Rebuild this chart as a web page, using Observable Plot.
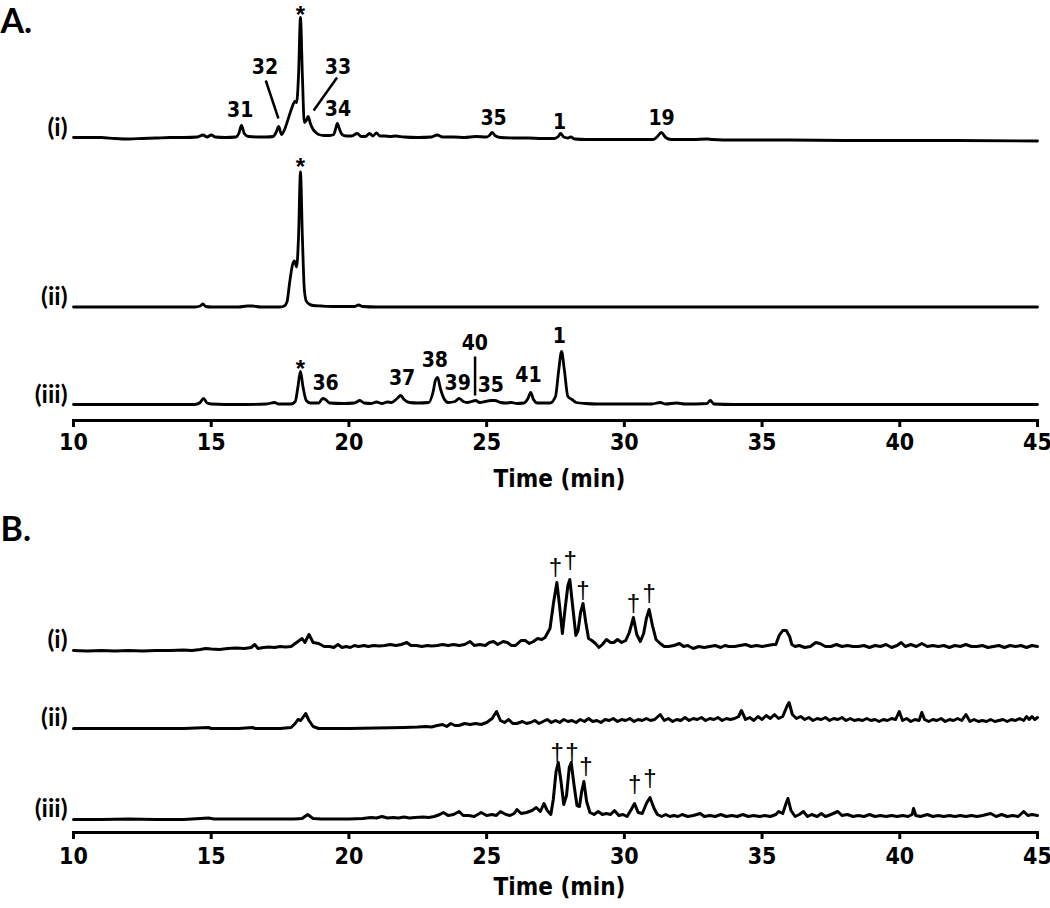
<!DOCTYPE html>
<html><head><meta charset="utf-8">
<script src="https://cdn.jsdelivr.net/npm/d3@7"></script>
<script src="https://cdn.jsdelivr.net/npm/@observablehq/plot@0.6"></script>
<style>
body{margin:0;background:#fff;}
#fig{width:1050px;}
#fig svg{display:block;}
</style></head><body><div id="fig"></div>
<script>
// ---------- data ----------
const timeTicks = [10, 15, 20, 25, 30, 35, 40, 45];
const traceNames = ["(i)", "(ii)", "(iii)"];
const axisTitle = "Time (min)";
const panelNames = ["A.", "B."];

// Panel A, trace (i): [time (min), signal]
const seriesAi = [[10,0],[11,0],[11.5,-1],[12,-1.5],[12.5,-1],[13,-0.5],[13.5,0],[14,0],[14.5,0.5],[14.7,2.5],[14.85,0.5],[15,2.5],[15.15,0.5],[15.5,0],[15.9,0.5],[16,4],[16.1,12],[16.2,4],[16.35,1],[16.7,0.5],[17,0.5],[17.25,1],[17.37,6],[17.45,11],[17.55,3],[17.65,7],[17.8,19],[17.92,29],[18.04,36],[18.1,35],[18.17,62],[18.24,120],[18.31,62],[18.38,15],[18.45,17],[18.52,21],[18.6,14],[18.7,8],[18.8,5],[18.9,3],[19.1,2],[19.3,2],[19.45,3],[19.52,9],[19.58,14],[19.65,9],[19.75,3],[19.9,1.5],[20.1,1.5],[20.3,4],[20.45,1],[20.6,1],[20.75,4],[20.87,1.5],[21,4.5],[21.12,1.5],[21.3,1.5],[21.5,1],[21.7,1.5],[22,0.5],[22.5,0],[23,0.5],[23.2,2.5],[23.4,0.5],[23.8,0.5],[24.2,0],[24.6,1],[25,0.5],[25.1,2],[25.2,5],[25.3,2],[25.5,0],[26,-0.5],[26.5,-0.5],[27,-1],[27.45,-1],[27.6,1],[27.68,4],[27.8,0.5],[27.95,-0.5],[28.05,0.5],[28.2,-1.5],[28.6,-2],[29.5,-2],[30.5,-2],[31.05,-2],[31.2,1],[31.34,5],[31.5,0],[31.7,-2],[32.5,-2],[33,-1.5],[33.2,-2],[34,-2.5],[36,-2.5],[38,-3],[40,-3],[42,-3],[45,-3.5]];
// Panel A, trace (ii)
const seriesAii = [[10,0],[14.4,0],[14.6,1],[14.7,3],[14.8,0.5],[15,0],[16,0],[16.3,1],[16.5,1],[16.8,0],[17.5,0],[17.65,1],[17.75,5],[17.85,25],[17.95,42],[18.02,46],[18.1,40],[18.17,70],[18.24,135],[18.31,70],[18.38,18],[18.45,6],[18.55,3],[18.7,1.5],[19,1],[19.5,0.5],[20.2,0.5],[20.35,2],[20.5,0.5],[21,0],[45,0]];
// Panel A, trace (iii)
const seriesAiii = [[10,0],[14.4,0],[14.6,2],[14.72,6],[14.85,1.5],[15,0.5],[16,0],[17,0.5],[17.3,2],[17.45,0.5],[17.9,0.5],[18.05,3],[18.15,18],[18.24,33],[18.33,18],[18.45,4],[18.6,1.5],[18.9,1.5],[19.05,6],[19.15,5],[19.3,1.5],[19.8,1],[20.2,1.5],[20.4,4],[20.55,1.5],[20.8,1],[21,2.5],[21.2,1],[21.4,2.5],[21.55,2],[21.75,6],[21.88,9],[22,5],[22.2,2],[22.5,1.5],[22.9,2],[23.05,12],[23.15,25],[23.22,27],[23.32,16],[23.45,6],[23.6,2],[23.85,3],[24,6],[24.15,3],[24.3,2],[24.45,3],[24.6,4],[24.75,2],[24.95,3],[25.15,4],[25.3,4],[25.5,2],[25.7,1.5],[25.9,2],[26.1,1],[26.35,1.5],[26.5,6],[26.6,12],[26.7,5],[26.85,1.5],[27.3,1.5],[27.5,8],[27.62,35],[27.72,53],[27.82,35],[27.95,8],[28.1,5],[28.25,2],[28.6,1],[29,0.5],[30,0.5],[31,0.5],[31.3,2],[31.5,0.5],[31.9,1.5],[32.2,0.5],[33,1],[33.12,4],[33.25,0.5],[34,0],[45,0]];

// Panel B, trace (i)
const seriesBi = [[10,0],[10.5,-0.5],[11,0],[11.5,-0.5],[12,0],[12.5,-0.5],[13,0],[13.5,0],[14,0.5],[14.3,0],[14.6,1],[14.8,2],[15,1.5],[15.3,1],[15.6,2],[15.9,2.5],[16.2,2],[16.45,3],[16.58,6],[16.7,2],[16.9,3],[17.1,3.5],[17.3,3],[17.5,4],[17.7,3.5],[17.9,4],[18.05,7],[18.2,10],[18.3,12],[18.4,8],[18.55,16],[18.7,8],[18.9,7],[19.1,4],[19.3,4],[19.45,3],[19.6,6],[19.75,3],[19.9,4],[20.05,3],[20.2,5],[20.35,4],[20.55,5],[20.7,4],[20.9,5],[21.1,4.5],[21.3,5],[21.5,6],[21.7,5],[21.9,6],[22.1,8],[22.25,5],[22.45,5],[22.65,4],[22.85,5],[23,4.5],[23.2,5],[23.4,6],[23.6,5],[23.8,6],[24,5],[24.2,6],[24.4,9],[24.55,5],[24.75,6],[24.95,5],[25.1,8],[25.25,9],[25.4,6],[25.6,9],[25.75,8],[25.9,5],[26.05,5],[26.25,10],[26.4,10],[26.55,7],[26.7,9],[26.85,12],[27,11],[27.12,13],[27.3,22],[27.43,48],[27.55,68],[27.65,44],[27.75,17],[27.85,42],[27.95,65],[28.02,71],[28.12,45],[28.24,15],[28.32,20],[28.41,38],[28.5,47],[28.6,28],[28.7,12],[28.82,10],[28.95,7],[29.08,3],[29.2,6],[29.35,11],[29.5,8],[29.62,8],[29.75,11],[29.9,8],[30.05,10],[30.18,18],[30.33,33],[30.45,16],[30.58,9],[30.7,17],[30.8,32],[30.9,41],[31.02,25],[31.15,11],[31.3,7],[31.45,4],[31.6,4],[31.8,5],[32,7],[32.15,4],[32.3,5],[32.5,2],[32.7,4],[32.9,3],[33.1,4],[33.3,5],[33.5,3],[33.65,5],[33.8,4],[34,4],[34.2,5],[34.4,6],[34.6,4],[34.8,5],[35,4],[35.2,5],[35.4,6],[35.5,6],[35.62,15],[35.75,20],[35.88,20],[36,14],[36.08,6],[36.2,4],[36.35,5],[36.55,3],[36.75,4],[36.95,8],[37.1,7],[37.3,4],[37.5,4],[37.7,6],[37.9,4],[38.1,5],[38.3,4],[38.5,4],[38.7,5],[38.9,3],[39.1,5],[39.3,4],[39.5,6],[39.7,3],[39.9,5],[40.05,8],[40.2,4],[40.4,6],[40.6,4],[40.8,7],[41,4],[41.2,5],[41.4,4],[41.6,5],[41.8,3],[42,5],[42.2,4],[42.4,6],[42.6,4],[42.8,4],[43,5],[43.2,3],[43.4,4],[43.6,5],[43.8,3],[44,5],[44.2,4],[44.4,5],[44.6,3],[44.8,5],[45,4]];
// Panel B, trace (ii)
const seriesBii = [[10,0],[11,0],[12,0],[13,0],[14,0],[14.9,1],[15,0],[16,0],[16.5,1],[16.6,0],[17.5,0],[17.9,1],[18.05,5],[18.15,9],[18.25,8],[18.43,15],[18.55,8],[18.7,2],[18.9,0],[19.5,0],[20,0],[21,0.5],[22,1],[22.5,1.5],[22.8,2],[23,1.5],[23.2,3],[23.4,4],[23.55,2],[23.7,5],[23.85,3],[24,3],[24.2,5],[24.4,4],[24.6,5],[24.8,4],[25,6],[25.2,10],[25.36,17],[25.5,8],[25.65,6],[25.8,9],[25.95,5],[26.1,5],[26.3,7],[26.45,5],[26.6,6],[26.75,8],[26.9,5],[27.05,7],[27.2,9],[27.35,6],[27.5,8],[27.65,6],[27.8,9],[27.95,7],[28.1,8],[28.25,6],[28.4,9],[28.55,7],[28.7,10],[28.85,7],[29,8],[29.15,6],[29.3,9],[29.45,8],[29.6,10],[29.75,7],[29.9,9],[30.05,8],[30.2,10],[30.35,7],[30.5,9],[30.65,8],[30.8,10],[30.95,8],[31.1,9],[31.3,14],[31.45,8],[31.6,10],[31.75,7],[31.9,9],[32.05,8],[32.2,11],[32.35,8],[32.5,10],[32.65,9],[32.8,11],[32.95,8],[33.1,10],[33.25,9],[33.4,11],[33.55,8],[33.7,10],[33.85,9],[34,10],[34.15,12],[34.25,18],[34.4,9],[34.55,11],[34.7,8],[34.85,12],[35,9],[35.15,13],[35.3,10],[35.45,14],[35.6,10],[35.75,12],[35.9,22],[35.98,26],[36.1,14],[36.25,10],[36.4,12],[36.55,9],[36.7,11],[36.85,8],[37,10],[37.15,9],[37.3,11],[37.45,8],[37.6,10],[37.75,9],[37.9,11],[38.05,8],[38.2,10],[38.35,8],[38.5,9],[38.65,8],[38.8,10],[38.95,8],[39.1,9],[39.25,7],[39.4,9],[39.55,8],[39.7,10],[39.85,9],[39.98,17],[40.1,8],[40.25,10],[40.4,7],[40.55,9],[40.7,8],[40.8,16],[40.9,9],[41.05,7],[41.2,9],[41.35,8],[41.5,10],[41.65,7],[41.8,9],[41.95,8],[42.1,10],[42.25,8],[42.4,14],[42.55,7],[42.7,9],[42.85,7],[43,8],[43.15,7],[43.3,9],[43.45,7],[43.6,8],[43.75,9],[43.9,7],[44.05,9],[44.2,8],[44.35,10],[44.5,8],[44.6,12],[44.7,9],[44.8,12],[44.9,9],[45,11]];
// Panel B, trace (iii)
const seriesBiii = [[10,0],[10.5,0],[11,0],[12,0.5],[13,0],[14,0],[14.9,1.5],[15.1,0.5],[16,0.5],[17,0.5],[18,0.5],[18.3,1],[18.5,5],[18.7,1],[19,0.5],[19.5,0.5],[20,0.5],[20.5,1],[20.8,2],[21,1.5],[21.2,3],[21.4,1.5],[21.6,2],[21.8,1.5],[22,2.5],[22.2,1.5],[22.4,2],[22.7,2.5],[22.9,2],[23.1,3],[23.3,5],[23.43,7],[23.6,4],[23.8,5],[24,8],[24.15,4],[24.35,4],[24.55,3],[24.8,7],[25,4],[25.2,5],[25.35,4],[25.5,8],[25.7,5],[25.85,4],[26,6],[26.1,10],[26.25,6],[26.45,7],[26.65,9],[26.8,12],[26.95,8],[27.08,16],[27.2,9],[27.33,5],[27.42,20],[27.52,48],[27.6,57],[27.7,38],[27.8,15],[27.9,24],[28,52],[28.07,57],[28.17,35],[28.28,14],[28.37,13],[28.45,28],[28.53,38],[28.63,18],[28.75,7],[28.9,5],[29.05,8],[29.2,5],[29.35,6],[29.5,5],[29.64,9],[29.8,4],[29.95,5],[30.1,3],[30.25,10],[30.37,16],[30.5,7],[30.65,6],[30.8,16],[30.93,22],[31.08,11],[31.2,5],[31.35,3],[31.5,5],[31.65,3],[31.8,4],[31.95,3],[32.1,5],[32.3,3],[32.5,4],[32.76,6],[32.9,3],[33.1,4],[33.3,3],[33.5,5],[33.7,3],[33.9,4],[34.1,3],[34.3,5],[34.5,3],[34.7,4],[34.9,3],[35.1,4],[35.3,3],[35.5,5],[35.6,8],[35.75,6],[35.87,16],[35.94,21],[36.05,9],[36.2,3],[36.35,5],[36.5,8],[36.65,3],[36.8,5],[37,3],[37.15,6],[37.3,3],[37.5,5],[37.75,8],[37.9,4],[38.1,5],[38.3,3],[38.5,4],[38.7,3],[38.9,5],[39.1,3],[39.3,4],[39.5,3],[39.7,4],[39.9,3],[40.1,4],[40.3,3],[40.45,5],[40.5,11],[40.58,4],[40.75,3],[41,5],[41.2,3],[41.4,4],[41.6,3],[41.8,4],[42,3],[42.2,4],[42.4,3],[42.6,4],[42.8,3],[43,4],[43.3,6],[43.5,3],[43.7,5],[43.9,3],[44.1,4],[44.3,3],[44.5,8],[44.65,4],[44.8,5],[45,4]];

// Peak annotations: trace index, label, time, signal level of label
const peakLabelsA = [
  [0,"*",18.24,122.5],[0,"31",16.05,27],[0,"32",16.95,70],[0,"33",19.6,70],[0,"34",19.6,28],
  [0,"35",25.25,19],[0,"1",27.65,15],[0,"19",31.35,19],
  [1,"*",18.24,140],
  [2,"*",18.24,35],[2,"36",19.15,21],[2,"37",21.93,26],[2,"38",23.12,44],[2,"39",23.95,21],
  [2,"40",24.57,61],[2,"35",25.15,19],[2,"41",26.52,29],[2,"1",27.64,68]
];
// Leader lines: trace, t1, level1, t2, level2
const leaderLinesA = [[0,16.98,57,17.44,19],[0,19.57,60,18.72,27],[2,24.58,48,24.58,9]];
const peakLabelsB = [
  [0,"†",27.5,83],[0,"†",28.03,90],[0,"†",28.5,60],[0,"†",30.33,47],[0,"†",30.9,57],
  [2,"†",27.56,67],[2,"†",28.1,67],[2,"†",28.6,53],[2,"†",30.37,35],[2,"†",30.93,41]
];

// ---------- drawing ----------
const NARROW = '"Liberation Sans Narrow","Arial Narrow","DejaVu Sans Condensed",sans-serif';
const HUMAN = 'Lato,"Open Sans",sans-serif';
const SYMBOL = '"Liberation Sans",sans-serif';
const isMark = s => s === "*" || s === "†";

function panel({series, offsets, labels, leaders, name, height, axisY, curve, strokeWidth, labelDy, nameDy, tickPadding, titleDy}) {
  const rows = series.flatMap((s, k) => s.map(([t, v]) => ({k, t, y: v + offsets[k]})));
  const lab = labels.map(([k, text, t, v]) => ({text, t, y: v + offsets[k]}));
  const lead = leaders.map(([k, t1, v1, t2, v2]) => ({t1, t2, y1: v1 + offsets[k], y2: v2 + offsets[k]}));
  const names = traceNames.map((text, k) => ({text, y: offsets[k]}));
  return Plot.plot({
    width: 1050, height,
    marginLeft: 73, marginRight: 13, marginTop: 0, marginBottom: height - axisY,
    x: {domain: [10, 45]},
    y: {domain: [0, axisY], axis: null},
    style: {fontFamily: NARROW, fontWeight: "bold", fontSize: "22px", color: "#000", background: "#fff", overflow: "visible"},
    marks: [
      Plot.line(rows, {x: "t", y: "y", z: "k", stroke: "#000", strokeWidth, curve, strokeLinejoin: "round"}),
      Plot.frame({anchor: "bottom", stroke: "#000", strokeWidth: 3}),
      Plot.axisX({ticks: timeTicks, tickSize: 7, tickPadding, strokeWidth: 3, fontSize: 23, tickFormat: d => String(d), label: null}),
      Plot.text([axisTitle], {frameAnchor: "bottom", dx: 4, dy: titleDy, fontSize: 24}),
      Plot.text(names, {frameAnchor: "left", y: "y", text: "text", textAnchor: "end", dx: -6, dy: labelDy, fontFamily: HUMAN, fontSize: 25, fontWeight: "bold"}),
      Plot.text([name], {frameAnchor: "top-left", dx: -73, dy: nameDy, textAnchor: "start", fontFamily: HUMAN, fontSize: 34, fontWeight: "bold"}),
      Plot.link(lead, {x1: "t1", y1: "y1", x2: "t2", y2: "y2", stroke: "#000", strokeWidth: 2.5}),
      Plot.text(lab.filter(d => !isMark(d.text)), {x: "t", y: "y", text: "text", fontSize: 21}),
      Plot.text(lab.filter(d => d.text === "*"), {x: "t", y: "y", text: "text", fontSize: 24, fontFamily: SYMBOL}),
      Plot.text(lab.filter(d => d.text === "†"), {x: "t", y: "y", text: "text", fontSize: 24, fontWeight: "normal", fontFamily: SYMBOL})
    ]
  });
}

const fig = document.getElementById("fig");
fig.append(panel({
  series: [seriesAi, seriesAii, seriesAiii], offsets: [283, 113.5, 16],
  labels: peakLabelsA, leaders: leaderLinesA, name: panelNames[0],
  height: 500, axisY: 420, curve: "monotone-x", strokeWidth: 2.8,
  labelDy: -10, nameDy: 8, tickPadding: 6, titleDy: 66
}));
fig.append(panel({
  series: [seriesBi, seriesBii, seriesBiii], offsets: [182, 104, 13],
  labels: peakLabelsB, leaders: [], name: panelNames[1],
  height: 408, axisY: 332, curve: "linear", strokeWidth: 3,
  labelDy: -11, nameDy: 16, tickPadding: 8, titleDy: 62
}));
</script></body></html>
